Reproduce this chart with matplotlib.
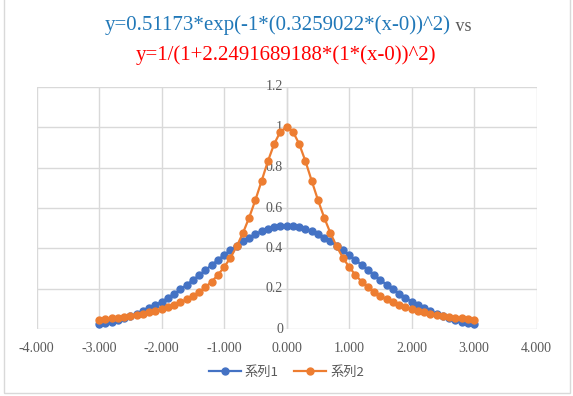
import matplotlib
matplotlib.use("Agg")
import matplotlib.pyplot as plt
from matplotlib.patches import Rectangle

# data (x step 0.1 from -3 to 3)
x_vals = [-3.0, -2.9, -2.8, -2.7, -2.6, -2.5, -2.4, -2.3, -2.2, -2.1,
          -2.0, -1.9, -1.8, -1.7, -1.6, -1.5, -1.4, -1.3, -1.2, -1.1,
          -1.0, -0.9, -0.8, -0.7, -0.6, -0.5, -0.4, -0.3, -0.2, -0.1,
          0.0,
          0.1, 0.2, 0.3, 0.4, 0.5, 0.6, 0.7, 0.8, 0.9, 1.0,
          1.1, 1.2, 1.3, 1.4, 1.5, 1.6, 1.7, 1.8, 1.9, 2.0,
          2.1, 2.2, 2.3, 2.4, 2.5, 2.6, 2.7, 2.8, 2.9, 3.0]

series1 = [0.026, 0.032, 0.038, 0.046, 0.055, 0.065, 0.076, 0.089, 0.104, 0.119,
           0.137, 0.155, 0.176, 0.197, 0.220, 0.244, 0.268, 0.293, 0.318, 0.343,
           0.368, 0.392, 0.414, 0.435, 0.454, 0.471, 0.485, 0.497, 0.505, 0.510,
           0.512,
           0.510, 0.505, 0.497, 0.485, 0.471, 0.454, 0.435, 0.414, 0.392, 0.368,
           0.343, 0.318, 0.293, 0.268, 0.244, 0.220, 0.197, 0.176, 0.155, 0.137,
           0.119, 0.104, 0.089, 0.076, 0.065, 0.055, 0.046, 0.038, 0.032, 0.026]

series2 = [0.047, 0.050, 0.054, 0.058, 0.062, 0.066, 0.072, 0.078, 0.084, 0.092,
           0.100, 0.110, 0.121, 0.133, 0.148, 0.165, 0.185, 0.208, 0.236, 0.269,
           0.308, 0.354, 0.410, 0.476, 0.553, 0.640, 0.735, 0.832, 0.917, 0.978,
           1.000,
           0.978, 0.917, 0.832, 0.735, 0.640, 0.553, 0.476, 0.410, 0.354, 0.308,
           0.269, 0.236, 0.208, 0.185, 0.165, 0.148, 0.133, 0.121, 0.110, 0.100,
           0.092, 0.084, 0.078, 0.072, 0.066, 0.062, 0.058, 0.054, 0.050, 0.047]

series_names = ["系列1", "系列2"]
x_ticks = [-4, -3, -2, -1, 0, 1, 2, 3, 4]
y_ticks = [0, 0.2, 0.4, 0.6, 0.8, 1, 1.2]
y_labels = ["0", "0.2", "0.4", "0.6", "0.8", "1", "1.2"]

title1 = "y=0.51173*exp(-1*(0.3259022*(x-0))^2)"
title1b = " vs"
title2 = "y=1/(1+2.2491689188*(1*(x-0))^2)"

serif = ["Liberation Serif", "DejaVu Serif"]
cjk = ["Noto Sans CJK JP", "DejaVu Sans"]
grid_c = "#D9D9D9"
text_c = "#595959"

fig = plt.figure(figsize=(5.73, 3.96), dpi=100)
ax = fig.add_axes([0.064, 0.1684, 0.8726, 0.6126])

# chart area border
fig.patches.append(Rectangle((3.5 / 573, 3.5 / 396), 566.5 / 573, 1.0,
                             transform=fig.transFigure, fill=False,
                             edgecolor=grid_c, linewidth=1))

ax.plot(x_vals, series1, color="#4472C4", marker="o", markersize=5,
        linewidth=1.6, label=series_names[0], zorder=3)
ax.plot(x_vals, series2, color="#ED7D31", marker="o", markersize=5,
        linewidth=1.6, label=series_names[1], zorder=4)

ax.set_xlim(-4, 4)
ax.set_ylim(0, 1.2)
ax.set_xticks(x_ticks)
ax.set_yticks(y_ticks)
ax.grid(True, color=grid_c, linewidth=1)
ax.axvline(0, color=grid_c, linewidth=1, zorder=1)
for s in ax.spines.values():
    s.set_visible(False)
ax.tick_params(length=0)
ax.set_yticklabels([])
ax.set_xticklabels([f"{t:.3f}" for t in x_ticks], family=serif,
                   fontsize=10, color=text_c)
ax.tick_params(axis="x", pad=9)

# y labels sit next to the axis at x=0
for v, lab in zip(y_ticks, y_labels):
    ax.text(-0.06, v, lab, ha="right", va="center", family=serif,
            fontsize=10, color=text_c, zorder=2)

t1 = fig.text(105 / 573, 1 - 30 / 396, title1, ha="left", va="baseline",
              family=serif, fontsize=15, color="#2178B8")
fig.canvas.draw()
ax.annotate(title1b, xy=(1, 0), xycoords=t1, ha="left", va="bottom",
            family=serif, fontsize=13, color=text_c, annotation_clip=False)
fig.text(286 / 573, 1 - 60 / 396, title2, ha="center", va="baseline",
         family=serif, fontsize=15, color="#FF0000")

leg = fig.legend(loc="center", bbox_to_anchor=(0.5, 1 - 372 / 396), ncol=2,
                 frameon=False, prop={"family": cjk, "size": 9.5},
                 handlelength=2.4, columnspacing=1.2, handletextpad=0.3)
for t in leg.get_texts():
    t.set_color(text_c)

fig.savefig("out.png", dpi=100)
